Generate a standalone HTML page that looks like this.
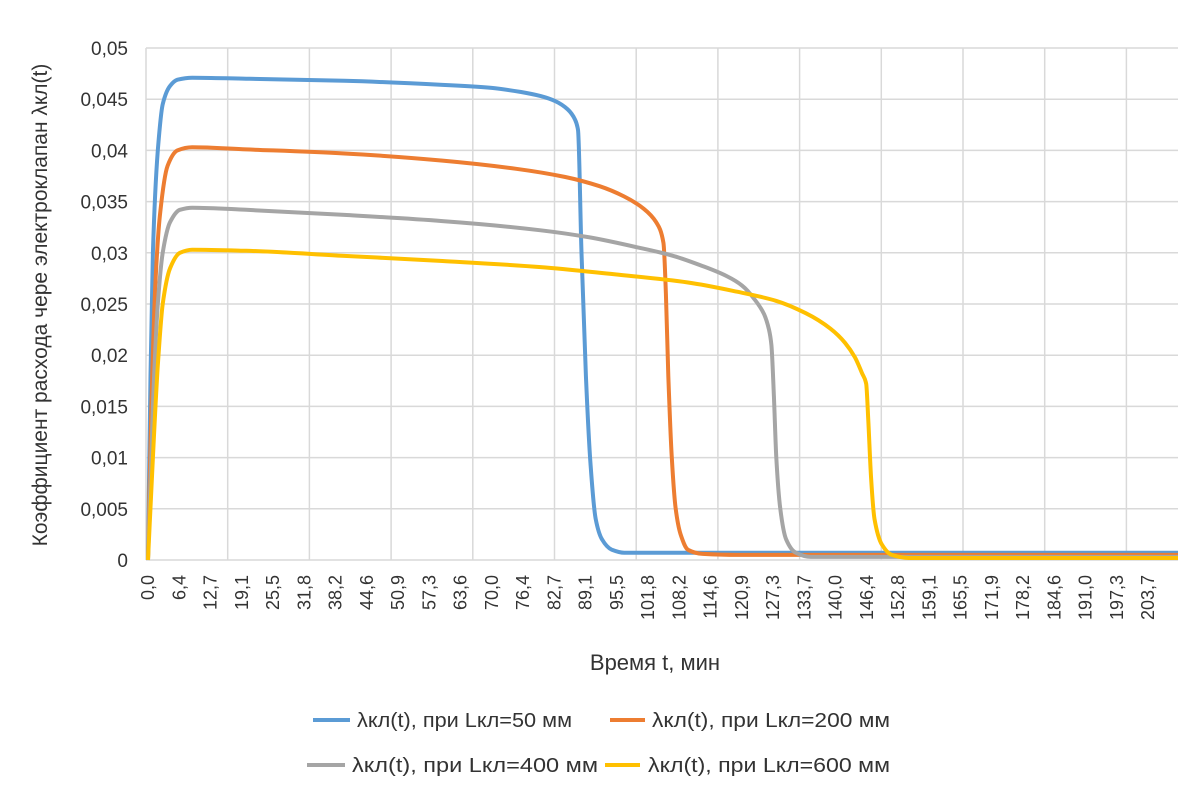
<!DOCTYPE html>
<html><head><meta charset="utf-8"><style>
body{margin:0;background:#fff;}
svg{display:block;font-family:"Liberation Sans","DejaVu Sans",sans-serif;}
</style></head><body>
<svg id="c" width="1200" height="804" viewBox="0 0 1200 804">
<g id="grid"></g>
<g id="yt"></g>
<g id="xt"></g>
<g id="series"></g>
<text x="47" y="305" transform="rotate(-90 47 305)" text-anchor="middle" font-size="21" fill="#333">Коэффициент расхода чере электроклапан λкл(t)</text>
<text x="655" y="670" text-anchor="middle" font-size="22" fill="#333">Время t, мин</text>
<g font-size="20" fill="#333">
<g><line x1="313" y1="720" x2="350" y2="720" stroke="#5b9bd5" stroke-width="4"/><text x="357" y="727" textLength="215" lengthAdjust="spacingAndGlyphs">λкл(t), при Lкл=50 мм</text></g>
<g><line x1="610" y1="720" x2="645" y2="720" stroke="#ed7d31" stroke-width="4"/><text x="652" y="727" textLength="238" lengthAdjust="spacingAndGlyphs">λкл(t), при Lкл=200 мм</text></g>
<g><line x1="307" y1="765" x2="345" y2="765" stroke="#a5a5a5" stroke-width="4"/><text x="352" y="772" textLength="246" lengthAdjust="spacingAndGlyphs">λкл(t), при Lкл=400 мм</text></g>
<g><line x1="605" y1="765" x2="640" y2="765" stroke="#ffc000" stroke-width="4"/><text x="648" y="772" textLength="242" lengthAdjust="spacingAndGlyphs">λкл(t), при Lкл=600 мм</text></g>
</g>
</svg>
<script>
const yTicks=["0","0,005","0,01","0,015","0,02","0,025","0,03","0,035","0,04","0,045","0,05"];
const xLabels=["0,0","6,4","12,7","19,1","25,5","31,8","38,2","44,6","50,9","57,3","63,6","70,0","76,4","82,7","89,1","95,5","101,8","108,2","114,6","120,9","127,3","133,7","140,0","146,4","152,8","159,1","165,5","171,9","178,2","184,6","191,0","197,3","203,7"];
const s50=[[0,0],[0.5,0.018],[1,0.03],[2,0.04],[3,0.0445],[4.5,0.0463],[6,0.0469],[9,0.0471],[20,0.047],[40,0.0468],[60,0.0464],[70,0.0461],[76,0.0457],[80,0.0453],[83,0.0448],[85.5,0.044],[87,0.043],[87.6,0.042],[88.3,0.03],[89.2,0.018],[90.2,0.009],[91.2,0.004],[92.5,0.002],[94.5,0.001],[97,0.0007],[210,0.0007]];
const s200=[[0,0],[0.7,0.015],[1.5,0.027],[2.5,0.034],[4,0.0385],[6,0.04],[9,0.0403],[20,0.0401],[40,0.0397],[60,0.039],[75,0.0382],[85,0.0374],[92,0.0365],[97,0.0355],[101,0.0343],[103.5,0.033],[105,0.031],[105.5,0.026],[106,0.018],[106.7,0.01],[107.5,0.005],[108.5,0.0025],[110,0.001],[113,0.0006],[120,0.0005],[210,0.0005]];
const s400=[[0,0],[1,0.015],[2,0.025],[3,0.03],[4.5,0.033],[6.5,0.0342],[9,0.0344],[20,0.0342],[40,0.0337],[60,0.0331],[80,0.0322],[90,0.0315],[100,0.0305],[107,0.0297],[113,0.0287],[118,0.0277],[121,0.0268],[123.5,0.0255],[125.5,0.024],[126.5,0.0225],[127,0.021],[127.5,0.016],[128,0.01],[128.8,0.005],[130,0.002],[132,0.0007],[135,0.0003],[210,0.0003]];
const s600=[[0,0],[1,0.01],[2,0.019],[3,0.025],[4.5,0.0285],[6.5,0.03],[9,0.0303],[20,0.0302],[40,0.0297],[60,0.0292],[80,0.0286],[95,0.0279],[110,0.0271],[120,0.0262],[128,0.0253],[134,0.0241],[139,0.0226],[142,0.0212],[144,0.0198],[145.5,0.0182],[146.3,0.0172],[146.7,0.014],[147.3,0.008],[148,0.004],[149.5,0.0015],[151.5,0.0005],[155,0.0002],[210,0.0002]];
const NS='http://www.w3.org/2000/svg';
const X0=148,X1=1178,PX=31.25/6.366;
const xs=t=>Math.min(X0+t*PX,X1);
const ys=v=>560-v/0.05*512;
function mk(tag,attrs,parent){const e=document.createElementNS(NS,tag);for(const k in attrs)e.setAttribute(k,attrs[k]);parent.appendChild(e);return e;}
function monoPath(pts){
  const n=pts.length,x=pts.map(p=>p[0]),y=pts.map(p=>p[1]);
  const d=[],m=new Array(n);
  for(let i=0;i<n-1;i++)d.push((y[i+1]-y[i])/(x[i+1]-x[i]));
  m[0]=d[0];m[n-1]=d[n-2];
  for(let i=1;i<n-1;i++){if(d[i-1]*d[i]<=0)m[i]=0;else{const w1=2*(x[i+1]-x[i])+(x[i]-x[i-1]),w2=(x[i+1]-x[i])+2*(x[i]-x[i-1]);m[i]=(w1+w2)/(w1/d[i-1]+w2/d[i]);}}
  let s='M'+x[0].toFixed(1)+','+y[0].toFixed(1);
  for(let i=0;i<n-1;i++){const h=(x[i+1]-x[i])/3;
    s+=' C'+(x[i]+h).toFixed(1)+','+(y[i]+m[i]*h).toFixed(1)+' '+(x[i+1]-h).toFixed(1)+','+(y[i+1]-m[i+1]*h).toFixed(1)+' '+x[i+1].toFixed(1)+','+y[i+1].toFixed(1);}
  return s;
}
const grid=document.getElementById('grid');
for(let i=0;i<yTicks.length;i++){
  const y=ys(i*0.005);
  const l=mk('line',{x1:146,x2:X1,y1:y,y2:y,stroke:'#d9d9d9','stroke-width':1.5},grid);
  
  
  const t=mk('text',{x:128,y:y+7,'text-anchor':'end','font-size':19,fill:'#333'},document.getElementById('yt'));
  t.textContent=yTicks[i];
  
  
}
for(let x=146;x<X1;x+=81.7){
  const l=mk('line',{x1:x,x2:x,y1:48,y2:560,stroke:'#d9d9d9','stroke-width':1.5},grid);
  
  
}
for(let i=0;i<xLabels.length;i++){
  const x=X0+i*31.25+6;
  const t=mk('text',{x:x,y:575,'text-anchor':'end','font-size':18,fill:'#333',transform:`rotate(-90 ${x} 575)`},document.getElementById('xt'));
  t.textContent=xLabels[i];
  
  
}
const sg=document.getElementById('series');
[[s50,'#5b9bd5','series-50mm'],[s200,'#ed7d31','series-200mm'],[s400,'#a5a5a5','series-400mm'],[s600,'#ffc000','series-600mm']].forEach(([d,c,n])=>{
  const p=mk('path',{d:monoPath(d.map(q=>[xs(q[0]),ys(q[1])])),fill:'none',stroke:c,'stroke-width':4,'stroke-linejoin':'round'},sg);
  
  
});
</script>
</body></html>
